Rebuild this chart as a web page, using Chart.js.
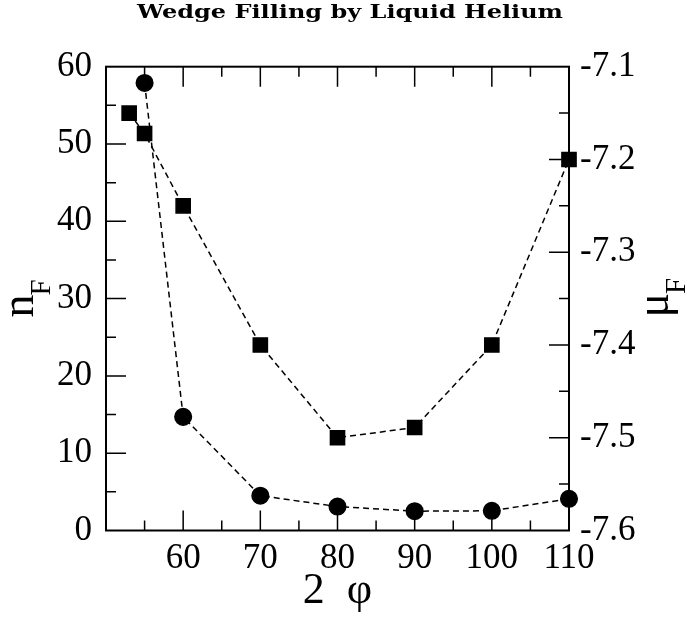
<!DOCTYPE html>
<html>
<head>
<meta charset="utf-8">
<script src="https://cdn.jsdelivr.net/npm/chart.js@4"></script>
<style>
  html, body { margin: 0; padding: 0; background: #fff; }
</style>
</head>
<body>
<canvas id="wedgeChart" width="687" height="619"></canvas>
<script>
"use strict";

// squares -> right axis (mu_F), circles -> left axis (n_F)
const phiSquares = [53, 55, 60, 70, 80, 90, 100, 110];
const muValues = [-7.15, -7.172, -7.25, -7.40, -7.50, -7.489, -7.40, -7.20];
const phiCircles = [55, 60, 70, 80, 90, 100, 110];
const nValues = [57.9, 14.7, 4.5, 3.1, 2.5, 2.55, 4.1];

const xTickLabels = [60, 70, 80, 90, 100, 110];
const nTickLabels = [0, 10, 20, 30, 40, 50, 60];
const muTickLabels = [-7.6, -7.5, -7.4, -7.3, -7.2, -7.1];

// inward tick marks (xmgrace style)
const xMajor = [60, 70, 80, 90, 100];
const xMinor = [55, 65, 75, 85, 95, 105];
const nMajor = [10, 20, 30, 40, 50];
const nMinor = [5, 15, 25, 35, 45, 55];
const muMajor = [-7.5, -7.4, -7.3, -7.2];
const muMinor = [-7.55, -7.45, -7.35, -7.25, -7.15];

const serif = "'Liberation Serif', 'Times New Roman', serif";
const tickFont = { family: serif, size: 35 };

const framePlugin = {
  id: "frame",
  beforeDatasetsDraw(chart) {
    const { ctx, chartArea: a, scales } = chart;
    ctx.save();
    ctx.strokeStyle = "#000";
    ctx.lineWidth = 1.5;
    ctx.beginPath();
    const vTick = (v, len) => {
      const px = scales.x.getPixelForValue(v);
      ctx.moveTo(px, a.bottom);
      ctx.lineTo(px, a.bottom - len);
      ctx.moveTo(px, a.top);
      ctx.lineTo(px, a.top + len);
    };
    const leftTick = (v, len) => {
      const py = scales.y.getPixelForValue(v);
      ctx.moveTo(a.left, py);
      ctx.lineTo(a.left + len, py);
    };
    const rightTick = (v, len) => {
      const py = scales.y2.getPixelForValue(v);
      ctx.moveTo(a.right, py);
      ctx.lineTo(a.right - len, py);
    };
    xMajor.forEach(v => vTick(v, 20));
    xMinor.forEach(v => vTick(v, 10));
    nMajor.forEach(v => leftTick(v, 20));
    nMinor.forEach(v => leftTick(v, 10));
    muMajor.forEach(v => rightTick(v, 20));
    muMinor.forEach(v => rightTick(v, 10));
    ctx.stroke();
    ctx.lineWidth = 2;
    ctx.strokeRect(a.left, a.top, a.right - a.left, a.bottom - a.top);
    ctx.restore();
  },
  afterDraw(chart) {
    const { ctx, chartArea: a } = chart;
    ctx.save();
    ctx.fillStyle = "#000";

    // title, stretched wide like the original
    const title = "Wedge Filling by Liquid Helium";
    ctx.font = "bold 18.5px 'DejaVu Serif'";
    const w = ctx.measureText(title).width;
    ctx.save();
    ctx.translate(350, 18);
    ctx.scale(426 / w, 1);
    ctx.textAlign = "center";
    ctx.textBaseline = "alphabetic";
    ctx.fillText(title, 0, 0);
    ctx.restore();

    // rotated axis titles with subscript F
    const yMid = (a.top + a.bottom) / 2;
    const drawSub = (main, baseX) => {
      ctx.save();
      ctx.translate(baseX, yMid + 19);
      ctx.rotate(-Math.PI / 2);
      ctx.textAlign = "left";
      ctx.textBaseline = "alphabetic";
      ctx.font = "46px " + serif;
      ctx.fillText(main, 0, 0);
      const mw = ctx.measureText(main).width;
      ctx.font = "29px " + serif;
      ctx.fillText("F", mw - 1, 17);
      ctx.restore();
    };
    drawSub("n", 33);
    drawSub("\u03bc", 668);
    ctx.restore();
  }
};

const ctx = document.getElementById("wedgeChart").getContext("2d");

new Chart(ctx, {
  type: "scatter",
  data: {
    datasets: [
      {
        label: "n_F",
        data: phiCircles.map((x, i) => ({ x: x, y: nValues[i] })),
        yAxisID: "y",
        showLine: true,
        borderColor: "#000",
        borderWidth: 1.5,
        borderDash: [6, 4],
        backgroundColor: "#000",
        pointStyle: "circle",
        pointRadius: 8.3,
        pointHoverRadius: 8.3,
        clip: false,
      },
      {
        label: "mu_F",
        data: phiSquares.map((x, i) => ({ x: x, y: muValues[i] })),
        yAxisID: "y2",
        showLine: true,
        borderColor: "#000",
        borderWidth: 1.5,
        borderDash: [6, 4],
        backgroundColor: "#000",
        pointStyle: "rect",
        pointRadius: 10,
        pointHoverRadius: 10,
        clip: false,
      },
    ],
  },
  options: {
    responsive: false,
    animation: false,
    layout: { padding: { top: 66.7, left: 0, right: 0, bottom: 0 } },
    plugins: {
      legend: { display: false },
      tooltip: { enabled: false },
    },
    scales: {
      x: {
        type: "linear",
        min: 50,
        max: 110,
        grid: { display: false, drawTicks: false },
        border: { display: false },
        afterBuildTicks: (s) => { s.ticks = xTickLabels.map(v => ({ value: v })); },
        afterFit: (s) => { s.height = 88.5; },
        ticks: { font: tickFont, color: "#000", padding: 7, maxRotation: 0, autoSkip: false },
        title: {
          display: true,
          text: "2  \u03c6",
          color: "#000",
          font: { family: serif, size: 44 },
          padding: { top: 0, bottom: 1 },
        },
      },
      y: {
        type: "linear",
        position: "left",
        min: 0,
        max: 60,
        grid: { display: false, drawTicks: false },
        border: { display: false },
        afterBuildTicks: (s) => { s.ticks = nTickLabels.map(v => ({ value: v })); },
        afterFit: (s) => { s.width = 106; },
        ticks: { font: tickFont, color: "#000", padding: 14 },
      },
      y2: {
        type: "linear",
        position: "right",
        min: -7.6,
        max: -7.1,
        grid: { display: false, drawTicks: false },
        border: { display: false },
        afterBuildTicks: (s) => { s.ticks = muTickLabels.map(v => ({ value: v })); },
        afterFit: (s) => { s.width = 118; },
        ticks: {
          font: tickFont,
          color: "#000",
          padding: 11,
          callback: (v) => v.toFixed(1),
        },
      },
    },
  },
  plugins: [framePlugin],
});
</script>
</body>
</html>
